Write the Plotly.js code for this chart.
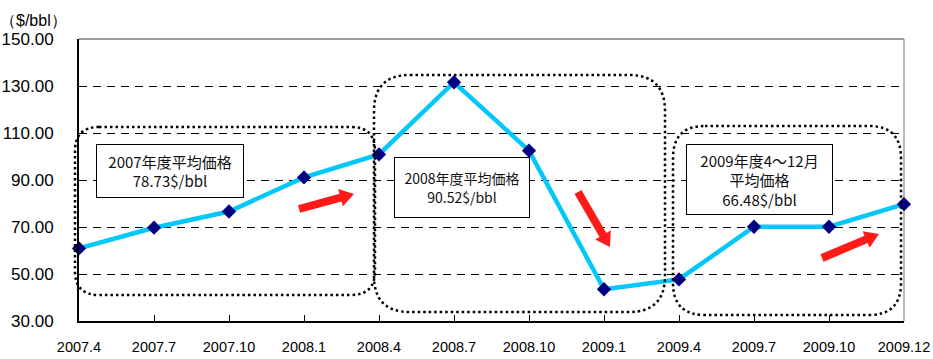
<!DOCTYPE html>
<html>
<head>
<meta charset="utf-8">
<script src="https://cdn.plot.ly/plotly-3.0.1.min.js"></script>
<style>
  html, body { margin: 0; padding: 0; background: #fff; }
  #chart { width: 933px; height: 359px; }
</style>
</head>
<body>
<div id="chart"></div>
<script>
// Monthly crude oil price ($/bbl)
const months = ['2007.4', '2007.7', '2007.10', '2008.1', '2008.4', '2008.7',
                '2008.10', '2009.1', '2009.4', '2009.7', '2009.10', '2009.12'];
const prices = [60.9, 69.7, 76.6, 91.1, 100.9, 131.6, 102.5, 43.5, 47.7, 70.1, 70.1, 79.7];
const yTicks = [30, 50, 70, 90, 110, 130, 150];
const yTickText = ['30.00', '50.00', '70.00', '90.00', '110.00', '130.00', '150.00'];

// Fiscal-year average labels
const avgLabels = [
  '2007年度平均価格<br>78.73$/bbl',
  '2008年度平均価格<br>90.52$/bbl',
  '2009年度4～12月<br>平均価格<br>66.48$/bbl'
];

// Plot geometry (pixels)
const W = 933, H = 359;
const M = { l: 79, r: 29, t: 39, b: 38 };
const PW = W - M.l - M.r, PH = H - M.t - M.b;
const px = x => (x - M.l) / PW;
const py = y => 1 - (y - M.t) / PH;

// Rounded rectangle outline in paper coordinates (from pixel box)
function roundRect(x0, y0, x1, y1, r) {
  const P = (x, y) => px(x).toFixed(5) + ',' + py(y).toFixed(5);
  return 'M' + P(x0 + r, y0) + ' L' + P(x1 - r, y0) +
         ' Q' + P(x1, y0) + ' ' + P(x1, y0 + r) +
         ' L' + P(x1, y1 - r) +
         ' Q' + P(x1, y1) + ' ' + P(x1 - r, y1) +
         ' L' + P(x0 + r, y1) +
         ' Q' + P(x0, y1) + ' ' + P(x0, y1 - r) +
         ' L' + P(x0, y0 + r) +
         ' Q' + P(x0, y0) + ' ' + P(x0 + r, y0) + ' Z';
}

// Block arrow polygon from tail to tip (pixels)
function blockArrow(x0, y0, x1, y1, shaft, headW, headL) {
  const dx = x1 - x0, dy = y1 - y0, len = Math.hypot(dx, dy);
  const ux = dx / len, uy = dy / len, nx = -uy, ny = ux;
  const bx = x1 - ux * headL, by = y1 - uy * headL;
  const pts = [
    [x0 + nx * shaft / 2, y0 + ny * shaft / 2],
    [bx + nx * shaft / 2, by + ny * shaft / 2],
    [bx + nx * headW / 2, by + ny * headW / 2],
    [x1, y1],
    [bx - nx * headW / 2, by - ny * headW / 2],
    [bx - nx * shaft / 2, by - ny * shaft / 2],
    [x0 - nx * shaft / 2, y0 - ny * shaft / 2]
  ];
  return 'M' + pts.map(p => px(p[0]).toFixed(5) + ',' + py(p[1]).toFixed(5)).join(' L') + ' Z';
}

const numFont = 'Liberation Sans, Arial, sans-serif';
const jpFont = 'Noto Sans CJK JP, sans-serif';

const trace = {
  x: months.map((m, i) => i),
  y: prices,
  type: 'scatter',
  mode: 'lines+markers',
  line: { color: '#00C8F8', width: 4.5 },
  marker: { symbol: 'diamond', color: '#000080', size: 11 },
  cliponaxis: false,
  hoverinfo: 'x+y'
};

const dotted = { color: '#000', width: 2.5, dash: '2.5px,3px' };

const shapes = [
  // gray frame on top and right
  { type: 'line', xref: 'paper', yref: 'paper', x0: 0, x1: 1, y0: 1, y1: 1,
    line: { color: '#9a9a9a', width: 2 }, layer: 'below' },
  { type: 'line', xref: 'paper', yref: 'paper', x0: 1, x1: 1, y0: 0, y1: 1,
    line: { color: '#a0a0a0', width: 1.5 }, layer: 'below' },
  // period groupings
  { type: 'path', xref: 'paper', yref: 'paper', path: roundRect(75, 127, 375, 295, 24), line: dotted },
  { type: 'path', xref: 'paper', yref: 'paper', path: roundRect(374, 75, 665, 312, 36), line: dotted },
  { type: 'path', xref: 'paper', yref: 'paper', path: roundRect(673, 126, 901, 315, 32), line: dotted },
  // trend arrows
  { type: 'path', xref: 'paper', yref: 'paper', path: blockArrow(299, 209, 354, 194, 8, 18, 14),
    fillcolor: '#FF1A1A', line: { width: 0 } },
  { type: 'path', xref: 'paper', yref: 'paper', path: blockArrow(578, 192, 610, 247, 8, 18, 14),
    fillcolor: '#FF1A1A', line: { width: 0 } },
  { type: 'path', xref: 'paper', yref: 'paper', path: blockArrow(822, 258, 879, 234, 8, 18, 14),
    fillcolor: '#FF1A1A', line: { width: 0 } }
];

const boxAnn = (cx, cy, w, h, text, size) => ({
  xref: 'paper', yref: 'paper', x: px(cx), y: py(cy),
  xanchor: 'center', yanchor: 'middle',
  text: text, showarrow: false, align: 'center',
  width: w, height: h, borderpad: 0,
  bgcolor: '#fff', bordercolor: '#000', borderwidth: 1,
  font: { family: jpFont, size: size, color: '#111' }
});

const annotations = [
  boxAnn(170, 171, 146, 52, avgLabels[0], 15),
  boxAnn(462, 187.5, 134, 59, avgLabels[1], 14),
  boxAnn(759.5, 179.5, 145, 69, avgLabels[2], 15),
  { xref: 'paper', yref: 'paper', x: px(33), y: py(20), xanchor: 'center', yanchor: 'middle',
    text: '（$/bbl）', showarrow: false,
    font: { family: numFont, size: 16, color: '#000' } }
];

const layout = {
  width: W, height: H,
  margin: M,
  paper_bgcolor: '#fff', plot_bgcolor: '#fff',
  showlegend: false,
  xaxis: {
    range: [0, months.length - 1],
    tickvals: months.map((m, i) => i),
    ticktext: months,
    showgrid: false, zeroline: false,
    showline: true, linecolor: '#000', linewidth: 2,
    ticks: 'inside', ticklen: 6, tickcolor: '#000', tickwidth: 1,
    ticklabelstandoff: 12,
    ticklabeloverflow: 'allow',
    tickfont: { family: numFont, size: 14.5, color: '#000' },
    fixedrange: true
  },
  yaxis: {
    range: [30, 150],
    tickvals: yTicks, ticktext: yTickText,
    showgrid: true, gridcolor: '#000', gridwidth: 1, griddash: '8px,6px',
    zeroline: false,
    showline: true, linecolor: '#000', linewidth: 2,
    ticks: 'inside', ticklen: 5, tickcolor: '#000', tickwidth: 1,
    ticklabelstandoff: 20,
    ticklabeloverflow: 'allow',
    tickfont: { family: numFont, size: 17, color: '#000' },
    fixedrange: true
  },
  shapes: shapes,
  annotations: annotations
};

Plotly.newPlot('chart', [trace], layout, { staticPlot: true, displayModeBar: false });
</script>
</body>
</html>
